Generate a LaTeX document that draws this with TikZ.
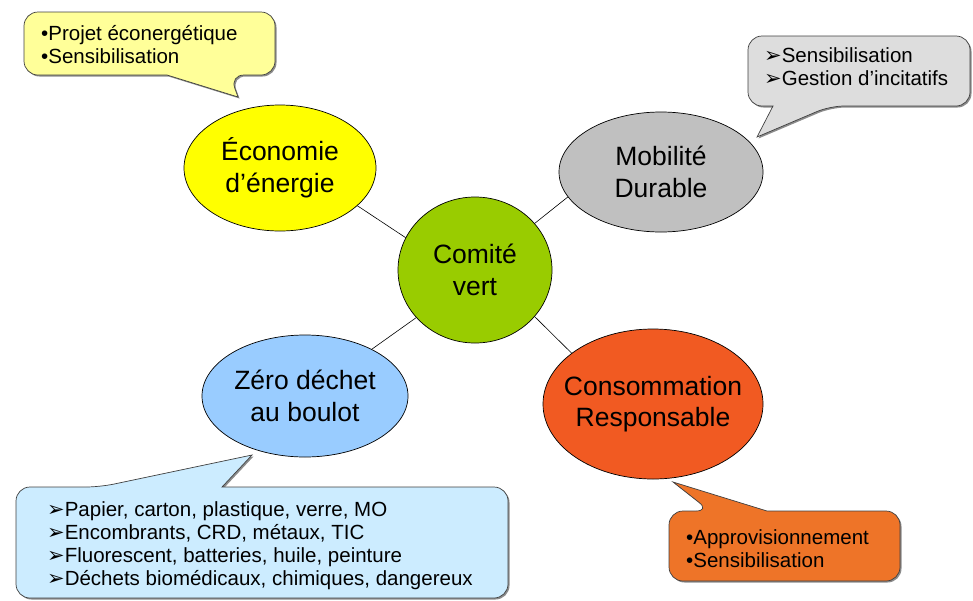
\documentclass[tikz,border=0pt]{standalone}
\usepackage{fontspec}
\setmainfont{Liberation Sans}
\newfontfamily\dejavu{DejaVu Sans}
\usepackage{xcolor}
\usepackage{tikz}
\usetikzlibrary{shapes.geometric,shadows}

\definecolor{vertcomite}{HTML}{99CC00}
\definecolor{jauneeco}{HTML}{FFFF00}
\definecolor{jaunepale}{HTML}{FFFF99}
\definecolor{grismob}{HTML}{C0C0C0}
\definecolor{grispale}{HTML}{DDDDDD}
\definecolor{bleuzero}{HTML}{99CCFF}
\definecolor{bleupale}{HTML}{CCECFF}
\definecolor{orangeconso}{HTML}{F15A22}
\definecolor{orangepale}{HTML}{EE7428}

\newcommand{\puce}{•}
\newcommand{\fleche}{{\dejavu\fontsize{21}{21}\selectfont ➢}}

\tikzset{
    bulle/.style={ellipse, draw=black, line width=.7pt, inner sep=0pt,
        label={[align=center, font=\fontsize{26.5}{31.5}\selectfont]center:#1}},
    infobox/.style={draw=black!75, line width=.7pt, rounded corners=14pt,
        drop shadow={shadow xshift=1.5pt, shadow yshift=-1.5pt, fill=black, opacity=.45}},
    infotxt/.style={align=left, anchor=west, inner sep=0pt,
        font=\fontsize{20.5}{23}\selectfont},
    lien/.style={draw=black, line width=.6pt}
}

\begin{document}
\begin{tikzpicture}[x=1pt, y=-1pt]
    \useasboundingbox (0,0) rectangle (973,600);

    % callouts
    \draw[infobox, fill=jaunepale] (24,44) -- ++(0,-32) -- ++(251,0) -- ++(0,63) -- ++(-45,0)
        [sharp corners] -- ++(8,22) -- ++(-71,-22) [rounded corners=14pt] -- ++(-143,0) -- cycle;
    \draw[infobox, fill=grispale] (748,70) -- ++(0,-34) -- ++(222,0) -- ++(0,70) -- ++(-140,0)
        [sharp corners] -- ++(-73,31) -- ++(16,-31) [rounded corners=14pt] -- ++(-25,0) -- cycle;
    \draw[infobox, fill=bleupale] (16,540) -- ++(0,-53) -- ++(84,0)
        [sharp corners] -- ++(152,-32) -- ++(-30,32) [rounded corners=14pt] -- ++(286,0) -- ++(0,111) -- ++(-492,0) -- cycle;
    \draw[infobox, fill=orangepale] (669,546) -- ++(0,-35) -- ++(41,0)
        [sharp corners] -- ++(-37,-29) -- ++(94,29) [rounded corners=14pt] -- ++(133,0) -- ++(0,70) -- ++(-231,0) -- cycle;

    \node[infotxt] (ecoinfo) at (41,45) {\puce Projet éconergétique\\\puce Sensibilisation};
    \node[infotxt] (mobinfo) at (764,67) {\fleche Sensibilisation\\\fleche Gestion d’incitatifs};
    \node[infotxt] (zeroinfo) at (47,546) {\fleche Papier, carton, plastique, verre, MO\\
        \fleche Encombrants, CRD, métaux, TIC\\
        \fleche Fluorescent, batteries, huile, peinture\\
        \fleche Déchets biomédicaux, chimiques, dangereux};
    \node[infotxt] (consoinfo) at (686,549) {\puce Approvisionnement\\\puce Sensibilisation};

    % bubbles
    \node[bulle={Comité\\vert}, fill=vertcomite, minimum width=154pt, minimum height=146pt] (comite) at (475,270) {};
    \node[bulle={Économie\\d’énergie}, fill=jauneeco, minimum width=192pt, minimum height=126pt] (eco) at (280,168) {};
    \node[bulle={Mobilité\\Durable}, fill=grismob, minimum width=204pt, minimum height=120pt] (mob) at (661,172) {};
    \node[bulle={Zéro déchet\\au boulot}, fill=bleuzero, minimum width=206pt, minimum height=122pt] (zero) at (305,396) {};
    \node[bulle={Consommation\\Responsable}, fill=orangeconso, minimum width=220pt, minimum height=150pt] (conso) at (653,404) {};

    % links
    \draw[lien] (comite.155) -- (eco.334);
    \draw[lien] (comite.38) -- (mob.195);
    \draw[lien] (comite.219) -- (zero.35);
    \draw[lien] (comite.322) -- (conso.148);
\end{tikzpicture}
\end{document}
